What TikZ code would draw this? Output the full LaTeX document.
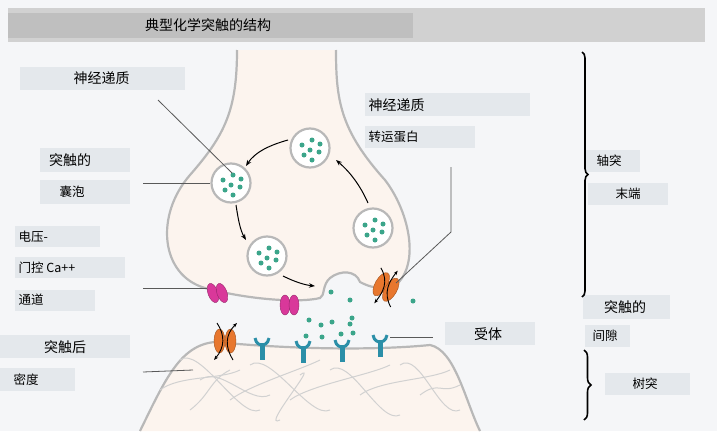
\documentclass[tikz,border=0pt]{standalone}
\usepackage{fontspec}
\newfontfamily\cjk{Noto Sans CJK SC}
\usetikzlibrary{decorations.pathreplacing,arrows.meta}
\definecolor{bg}{HTML}{F5F6F8}
\definecolor{lab}{HTML}{E4E8EC}
\definecolor{cell}{HTML}{FCF4EE}
\definecolor{mem}{HTML}{B8B8B8}
\definecolor{nt}{HTML}{3BA58A}
\definecolor{mag}{HTML}{D9389A}
\definecolor{org}{HTML}{E8772E}
\definecolor{teal}{HTML}{2B8FA8}
\begin{document}
\begin{tikzpicture}[x=1pt,y=-1pt,
 lbl/.style={fill=lab,inner sep=0pt,anchor=north west},
 big/.style={font=\cjk\fontsize{14}{16}\selectfont},
 sml/.style={font=\cjk\fontsize{12.5}{14}\selectfont},
 ptr/.style={draw=black!65,line width=0.8pt},
 ves/.style={draw=mem,line width=2.2pt,fill=white,circle,minimum size=39pt,inner sep=0},
 dot/.style={fill=nt,circle,inner sep=0,minimum size=5pt},
 cyc/.style={-{Stealth[length=6pt]},line width=1pt},
 mb/.style={draw=mem,line width=2.2pt}]
\fill[bg] (0,0) rectangle (717,431);
\useasboundingbox (0,0) rectangle (717,431);
% title bar
\fill[black!18] (8,8) rectangle (705,42);
\fill[black!25] (8,13) rectangle (413,38);
\node[big] (title) at (208,25) {典型化学突触的结构};
% postsynaptic
\fill[cell] (140,431) .. controls (165,380) and (180,345) .. (215,342) .. controls (300,350) and (380,350) .. (430,345) .. controls (455,350) and (465,400) .. (480,431) -- cycle;
\draw[mb] (140,431) .. controls (165,380) and (180,345) .. (215,342) .. controls (300,350) and (380,350) .. (430,345) .. controls (455,350) and (465,400) .. (480,431);
\foreach \a/\b/\c/\d in {180/360/260/410, 160/390/240/370, 230/400/320/360, 250/365/330/410, 290/400/390/365, 330/370/400/415, 360/395/450/370, 400/365/460/410, 190/410/230/370, 300/375/280/420, 420/395/460/385, 200/380/270/395}
  \draw[black!18,line width=1pt] (\a,\b) .. controls (\a+20,\b-15) and (\c-20,\d+10) .. (\c,\d);
% presynaptic
\def\pre{(237,50) .. controls (237,110) and (225,135) .. (190,175) .. controls (155,215) and (160,275) .. (205,288) .. controls (250,300) and (300,303) .. (320,298) .. controls (325,296) and (322,285) .. (330,278) .. controls (340,270) and (356,270) .. (360,282) .. controls (375,290) and (390,290) .. (398,283) .. controls (420,260) and (408,210) .. (385,180) .. controls (340,130) and (336,100) .. (336,50)}
\fill[cell] \pre -- cycle;
\draw[mb] \pre;
% vesicles
\node[ves] (v1) at (231,183) {};
\node[ves] (v2) at (310,148) {};
\node[ves] (v3) at (373,228) {};
\node[ves] (v4) at (267,256) {};
\foreach \v in {v1,v2,v3,v4}
  \foreach \dx/\dy in {-8/-3,2/-8,10/-4,0/2,9/4,-6/7,2/12} \node[dot] at ([shift={(\dx,\dy)}]\v) {};
\draw[cyc] (288,140) .. controls (270,145) and (255,152) .. (246,166);
\draw[cyc] (236,205) .. controls (238,218) and (240,230) .. (246,240);
\draw[cyc] (283,276) .. controls (295,282) and (305,285) .. (315,286);
\draw[cyc] (368,203) .. controls (360,185) and (350,172) .. (336,160);
% released NT
\foreach \x/\y in {331/292, 350/300, 309/320, 321/325, 332/322, 350/324, 306/336, 322/337, 341/334, 353/333, 413/301, 352/318}
  \node[dot] at (\x,\y) {};
% Ca channels
\foreach \x/\y/\r in {213/293/20, 222/293/20, 285/305/0, 294/305/0}
  \fill[mag,draw=mag!70!black,rotate around={\r:(\x,\y)}] (\x,\y) ellipse (5pt and 10pt);
% transporter
\begin{scope}[shift={(386,287)},rotate=-30]
\fill[org,draw=org!70!black] (-5.5,0) ellipse (6pt and 13pt);
\fill[org,draw=org!70!black] (5.5,0) ellipse (6pt and 13pt);
\draw[-{Stealth[length=4.5pt]},line width=0.9pt] (-14,-14) .. controls (0,-6) and (0,6) .. (-2,20);
\draw[-{Stealth[length=4.5pt]},line width=0.9pt] (14,15) .. controls (0,6) and (0,-6) .. (2,-20);
\end{scope}
% post channel
\begin{scope}[shift={(225,341)}]
\fill[org,draw=org!70!black] (-5.5,0) ellipse (5.5pt and 12pt);
\fill[org,draw=org!70!black] (5.5,0) ellipse (5.5pt and 12pt);
\draw[-{Stealth[length=4.5pt]},line width=0.9pt] (-8,-18) .. controls (0,-6) and (0,6) .. (-11,19);
\draw[-{Stealth[length=4.5pt]},line width=0.9pt] (8,19) .. controls (0,6) and (0,-6) .. (12,-18);
\end{scope}
% receptors
\foreach \x/\y in {262/347, 303/350, 342/349, 380/344}{
 \fill[teal] (\x-2.5,\y-4) rectangle (\x+2.5,\y+13);
 \draw[teal,line width=3pt] (\x-7,\y-9) .. controls (\x-6,\y-3) and (\x-2,\y-2) .. (\x,\y-2) .. controls (\x+2,\y-2) and (\x+6,\y-3) .. (\x+7,\y-9);
}
% labels
\node[lbl,minimum width=165pt,minimum height=23pt] (l1) at (20,67) {};
\node[big,anchor=west] at (70,78) {神经递质};
\node[lbl,minimum width=90pt,minimum height=24pt] (l2) at (40,148) {};
\node[big] at (70,160) {突触的};
\node[lbl,minimum width=90pt,minimum height=24pt] (l3) at (40,180) {};
\node[sml,anchor=west] at (56,192) {囊泡};
\node[lbl,minimum width=85pt,minimum height=21pt] at (15,226) {};
\node[sml,anchor=west] at (15,237) {电压-};
\node[lbl,minimum width=110pt,minimum height=21pt] at (15,257) {};
\node[sml,anchor=west] at (15,268) {门控 Ca++};
\node[lbl,minimum width=80pt,minimum height=21pt] at (15,290) {};
\node[sml,anchor=west] at (15,300) {通道};
\node[lbl,minimum width=130pt,minimum height=23pt] at (0,335) {};
\node[big] at (65,347) {突触后};
\node[lbl,minimum width=75pt,minimum height=23pt] at (0,368) {};
\node[sml,anchor=west] at (10,380) {密度};
\node[lbl,minimum width=165pt,minimum height=23pt] at (365,93) {};
\node[big,anchor=west] at (365,105) {神经递质};
\node[lbl,minimum width=110pt,minimum height=22pt] at (365,126) {};
\node[sml,anchor=west] at (365,137) {转运蛋白};
\node[lbl,minimum width=90pt,minimum height=23pt] at (445,322) {};
\node[big] at (488,334) {受体};
\node[lbl,minimum width=55pt,minimum height=22pt] at (585,150) {};
\node[sml] at (609,161) {轴突};
\node[lbl,minimum width=80pt,minimum height=22pt] at (588,183) {};
\node[sml] at (628,194) {末端};
\node[lbl,minimum width=87pt,minimum height=24pt] at (583,295) {};
\node[big] at (625,307) {突触的};
\node[lbl,minimum width=45pt,minimum height=22pt] at (585,325) {};
\node[sml] at (605,336) {间隙};
\node[lbl,minimum width=85pt,minimum height=22pt] at (605,373) {};
\node[sml] at (645,384) {树突};
% pointers
\coordinate (p1a) at (158,100); \coordinate (p1b) at (232,173);
\draw[ptr] (p1a) -- (p1b);
\coordinate (p2a) at (143,183); \draw[ptr] (p2a) -- (v1.west);
\coordinate (p3a) at (143,288); \coordinate (p3b) at (207,288); \draw[ptr] (p3a) -- (p3b);
\coordinate (p4a) at (143,372); \coordinate (p4b) at (193,370); \draw[ptr] (p4a) -- (p4b);
\coordinate (p5a) at (451,167); \coordinate (p5b) at (451,232); \coordinate (p5c) at (396,283);
\draw[ptr] (p5a) -- (p5b) -- (p5c);
\coordinate (p6a) at (390,337); \coordinate (p6b) at (433,337); \draw[ptr] (p6a) -- (p6b);
% braces
\draw[line width=1.6pt,decorate,decoration={brace,amplitude=6pt,aspect=0.5}] (582,52) -- (582,297);
\draw[line width=1.6pt,decorate,decoration={brace,amplitude=7pt,aspect=0.5}] (584,350) -- (584,420);
\end{tikzpicture}
\end{document}
